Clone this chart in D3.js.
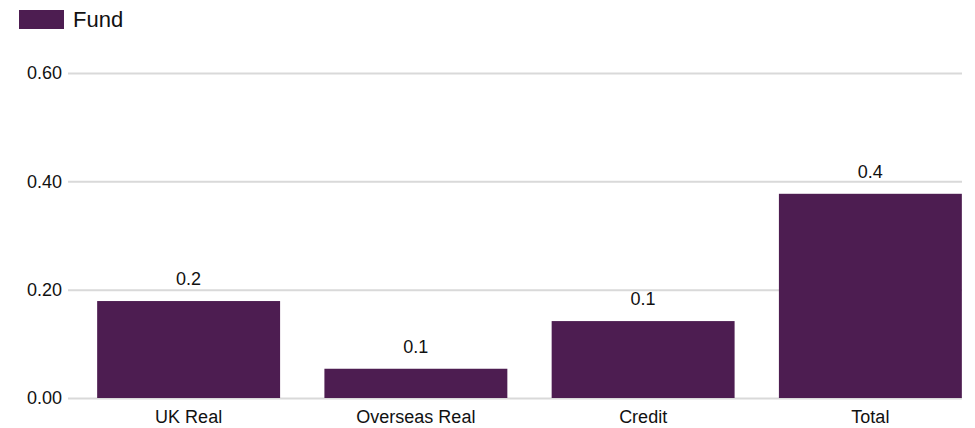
<!DOCTYPE html>
<html>
<head>
<meta charset="utf-8">
<script src="https://cdn.jsdelivr.net/npm/d3@7"></script>
<style>
  body { margin: 0; background: #fff; }
  text { font-family: "Liberation Sans", Arial, sans-serif; fill: #111; }
</style>
</head>
<body>
<div id="chart"></div>
<script>
var categories = ["UK Real", "Overseas Real", "Credit", "Total"];
var fundValues = [0.179, 0.054, 0.142, 0.377];
var yTicks = [0, 0.2, 0.4, 0.6];
var seriesName = "Fund";

var svgWidth = 975;
var svgHeight = 428;
var barColor = "#4d1d51";

var svg = d3.select("#chart")
  .append("svg")
  .attr("width", svgWidth)
  .attr("height", svgHeight);

var data = categories.map(function(c, i) {
  return { name: c, value: fundValues[i] };
});

// scales
var yScale = d3.scaleLinear()
  .domain([0, 0.6])
  .range([398, 73]);

var xScale = d3.scaleBand()
  .domain(categories)
  .range([75, 984])
  .paddingInner(0.195)
  .paddingOuter(0.0975);

// gridlines + y labels
var yAxis = d3.axisLeft(yScale)
  .tickValues(yTicks)
  .tickFormat(d3.format(".2f"))
  .tickSize(-(962 - 68))
  .tickPadding(6);

var yg = svg.append("g")
  .attr("transform", "translate(68,0)")
  .call(yAxis);
yg.select(".domain").remove();
yg.selectAll(".tick line")
  .attr("stroke", "#d9d9d9")
  .attr("stroke-width", 2);
yg.selectAll(".tick text")
  .attr("font-size", 18)
  .style("font-family", "Liberation Sans, Arial, sans-serif")
  .attr("fill", "#111");

// bars
svg.selectAll("rect.bar")
  .data(data)
  .enter()
  .append("rect")
  .attr("class", "bar")
  .attr("x", d => xScale(d.name))
  .attr("y", d => yScale(d.value))
  .attr("width", xScale.bandwidth())
  .attr("height", d => yScale(0) - yScale(d.value))
  .attr("fill", barColor);

// value labels
svg.selectAll("text.val")
  .data(data)
  .enter()
  .append("text")
  .attr("class", "val")
  .attr("x", d => xScale(d.name) + xScale.bandwidth() / 2)
  .attr("y", d => yScale(d.value) - 16)
  .attr("text-anchor", "middle")
  .attr("font-size", 18)
  .text(d => d3.format(".1f")(d.value));

// x axis labels
var xAxis = d3.axisBottom(xScale).tickSize(0).tickPadding(12);
var xg = svg.append("g")
  .attr("transform", "translate(0,398)")
  .call(xAxis);
xg.select(".domain").remove();
xg.selectAll(".tick text")
  .attr("font-size", 18)
  .style("font-family", "Liberation Sans, Arial, sans-serif")
  .attr("fill", "#111");

// legend
var legend = svg.append("g").attr("transform", "translate(19,10)");
legend.append("rect")
  .attr("width", 45)
  .attr("height", 19)
  .attr("fill", barColor);
legend.append("text")
  .attr("x", 54)
  .attr("y", 17)
  .attr("font-size", 22)
  .text(seriesName);
</script>
</body>
</html>
